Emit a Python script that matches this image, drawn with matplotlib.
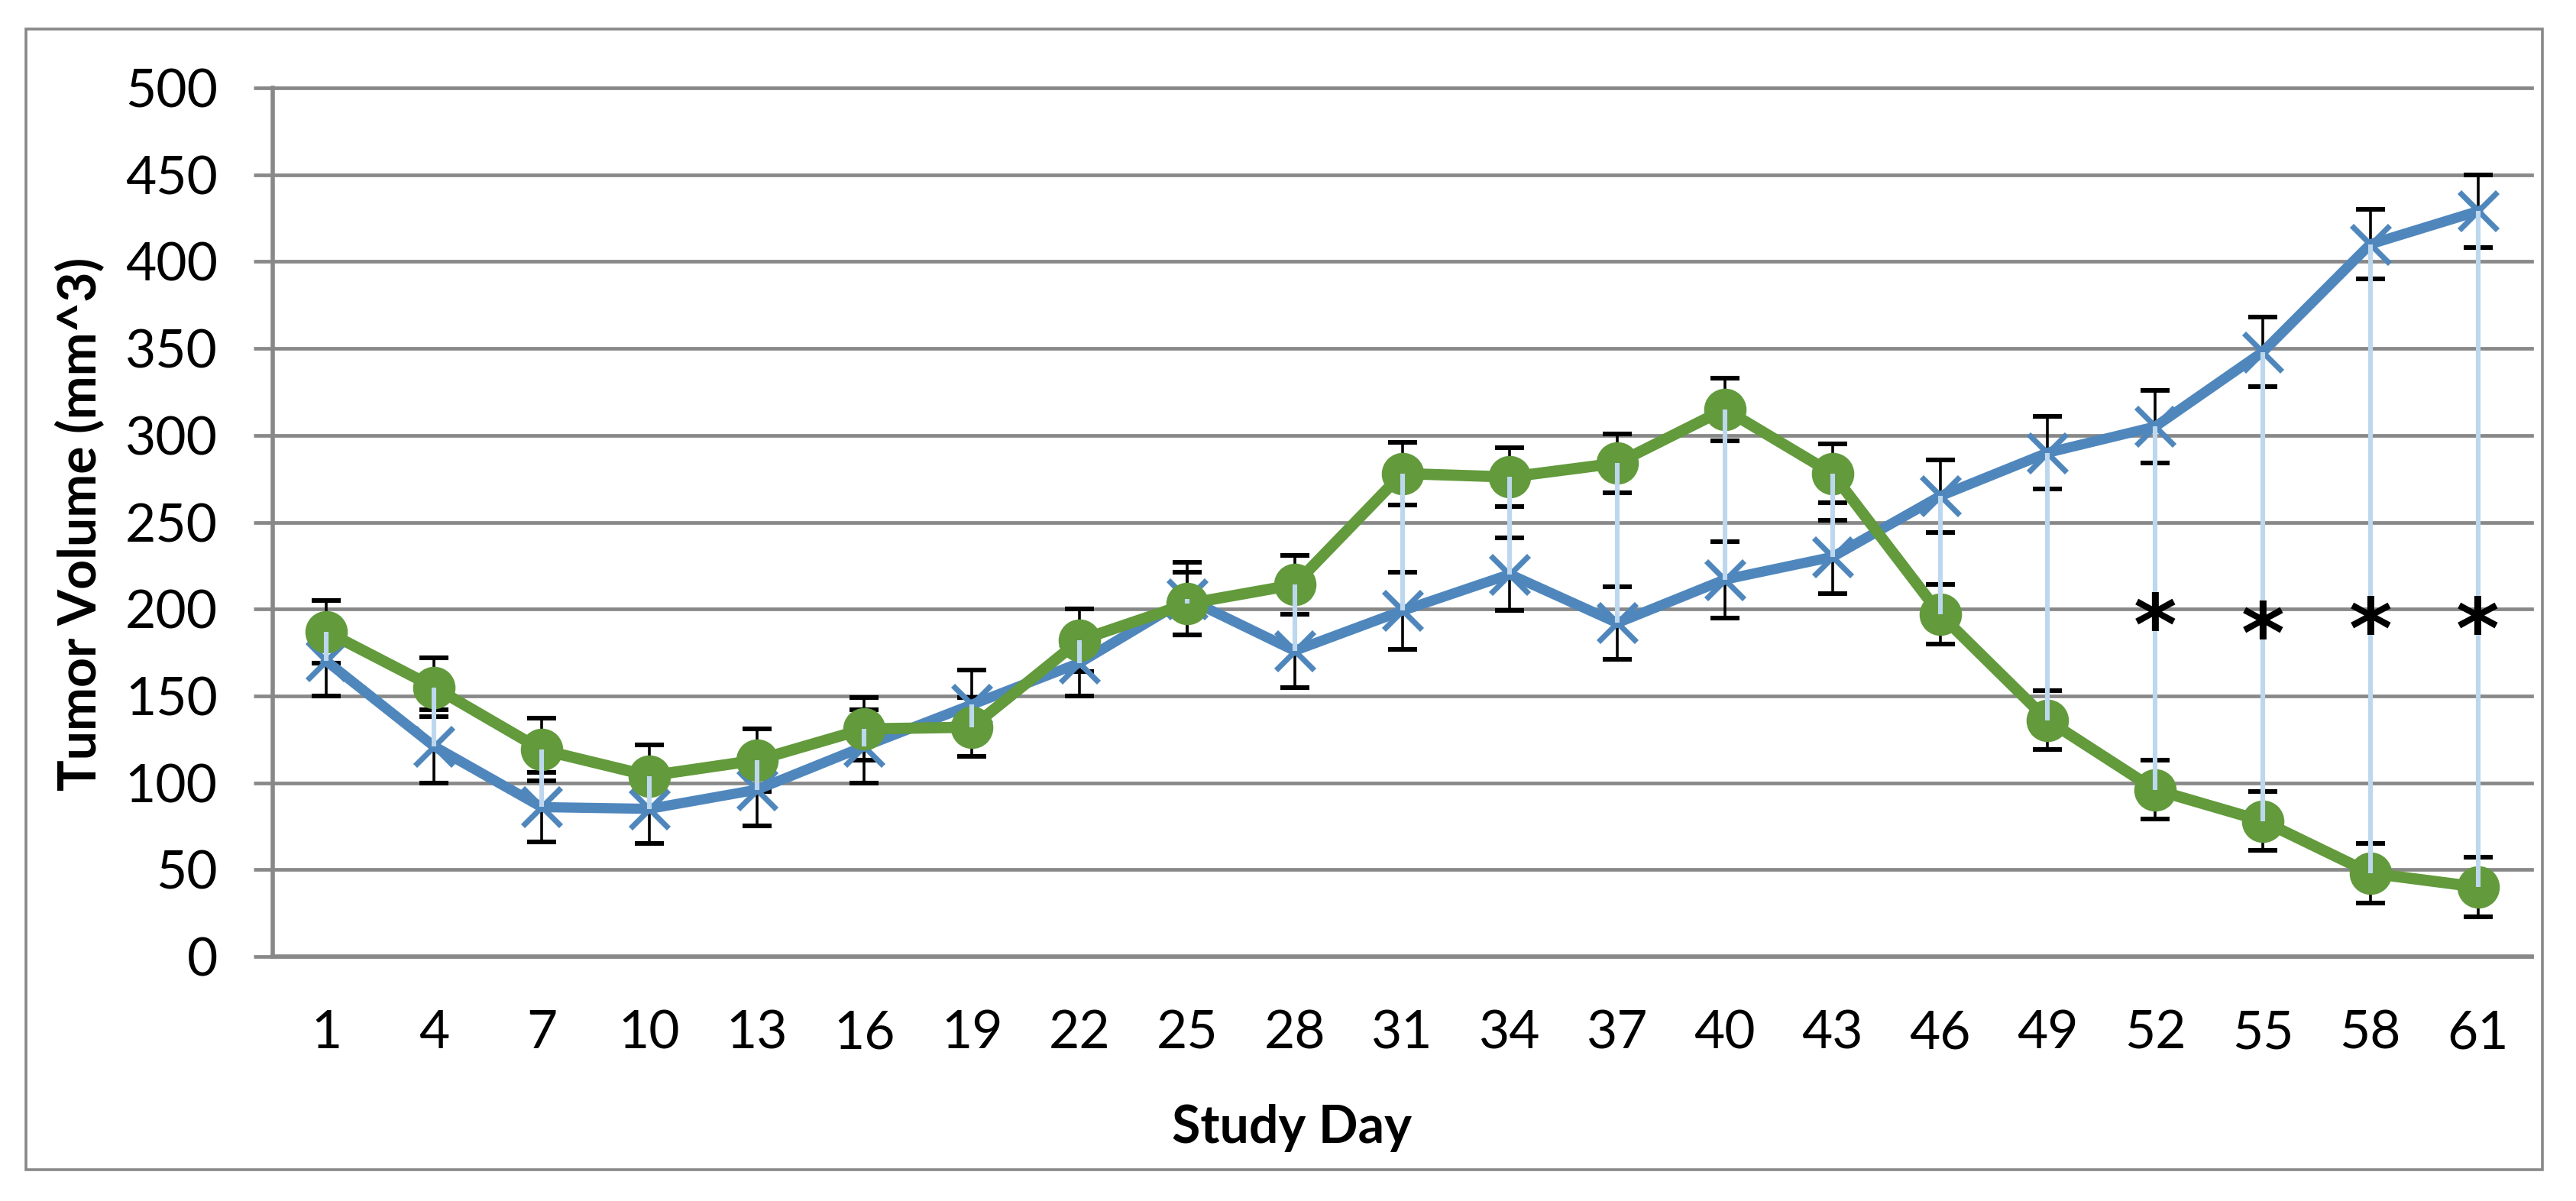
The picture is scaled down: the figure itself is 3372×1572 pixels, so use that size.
import matplotlib
matplotlib.use("Agg")
import matplotlib.pyplot as plt
import numpy as np
from matplotlib.patches import Rectangle

# ---- data ----
days = [1, 4, 7, 10, 13, 16, 19, 22, 25, 28, 31, 34, 37, 40, 43, 46, 49, 52, 55, 58, 61]
control = [170, 121, 86, 85, 96, 121, 145, 169, 206, 176, 199, 220, 192, 217, 230, 265, 290, 305, 348, 410, 429]
control_err = [20, 21, 20, 20, 21, 21, 20, 19, 21, 21, 22, 21, 21, 22, 21, 21, 21, 21, 20, 20, 21]
treated = [187, 155, 119, 104, 113, 131, 132, 182, 203, 214, 278, 276, 284, 315, 278, 197, 136, 96, 78, 48, 40]
treated_err = [18, 17, 18, 18, 18, 18, 17, 18, 18, 17, 18, 17, 17, 18, 17, 17, 17, 17, 17, 17, 17]
star_days = [52, 55, 58, 61]
star_vals = [201, 196, 199, 199]
y_ticks = [0, 50, 100, 150, 200, 250, 300, 350, 400, 450, 500]

plt.rcParams["font.family"] = ["Lato", "DejaVu Sans"]

W, H, DPI = 3372, 1572, 200
fig = plt.figure(figsize=(W / DPI, H / DPI), dpi=DPI)
fig.patch.set_facecolor("white")

# axes placement in pixels
x0, x1, ytop, ybot = 357, 3314, 115, 1252
ax = fig.add_axes([x0 / W, 1 - ybot / H, (x1 - x0) / W, (ybot - ytop) / H])

grey = "#888888"
green = "#629a3c"
blue = "#4f87bd"
hl = "#bdd7ee"

idx = np.arange(len(days))
cont = np.array(control)
trt = np.array(treated)

ax.errorbar(idx, cont, yerr=control_err, fmt="none", ecolor="black",
            elinewidth=1.3, capsize=7, capthick=2.2, zorder=3)
ax.errorbar(idx, trt, yerr=treated_err, fmt="none", ecolor="black",
            elinewidth=1.3, capsize=7, capthick=2.2, zorder=3)
ax.plot(idx, cont, color=blue, lw=4.8, marker="x", ms=18, mew=2.6, zorder=4)
ax.plot(idx, trt, color=green, lw=5.3, marker="o", ms=19, zorder=5)
ax.vlines(idx, np.minimum(cont, trt), np.maximum(cont, trt), color=hl, lw=2.2, zorder=6)

for d, v in zip(star_days, star_vals):
    ax.annotate("*", (days.index(d), v), xytext=(0, -22), textcoords="offset points",
                ha="center", va="baseline", fontsize=39, color="black",
                family="DejaVu Sans", fontweight="bold", zorder=7)

ax.set_xlim(-0.5, len(days) - 0.5)
ax.set_ylim(0, 500)
ax.set_yticks(y_ticks)
ax.set_xticks(idx)
ax.set_xticklabels([str(d) for d in days])

ax.yaxis.grid(True, color=grey, lw=1.7, zorder=0)
for gl in ax.get_ygridlines():
    gl.set_clip_on(False)
ax.set_axisbelow(True)
for s in ["top", "right"]:
    ax.spines[s].set_visible(False)
for s in ["left", "bottom"]:
    ax.spines[s].set_color(grey)
    ax.spines[s].set_linewidth(2)

ax.tick_params(axis="y", direction="out", length=9, width=1.7, color=grey,
               pad=17, labelsize=25, labelcolor="black")
ax.tick_params(axis="x", length=0, pad=25, labelsize=25, labelcolor="black")

fig.text(105 / W, 1 - 686 / H, "Tumor Volume (mm^3)", rotation=90, ha="center",
         va="center", fontsize=24.5, fontweight="bold")
fig.text(1691 / W, 1 - 1477 / H, "Study Day", ha="center", va="center",
         fontsize=24.5, fontweight="bold")

fig.patches.append(Rectangle((34 / W, 1 - 1531 / H), (3328 - 34) / W, (1531 - 38) / H,
                             transform=fig.transFigure, fill=False,
                             edgecolor=grey, lw=1.3))

fig.savefig("out.png", dpi=DPI, facecolor="white")
